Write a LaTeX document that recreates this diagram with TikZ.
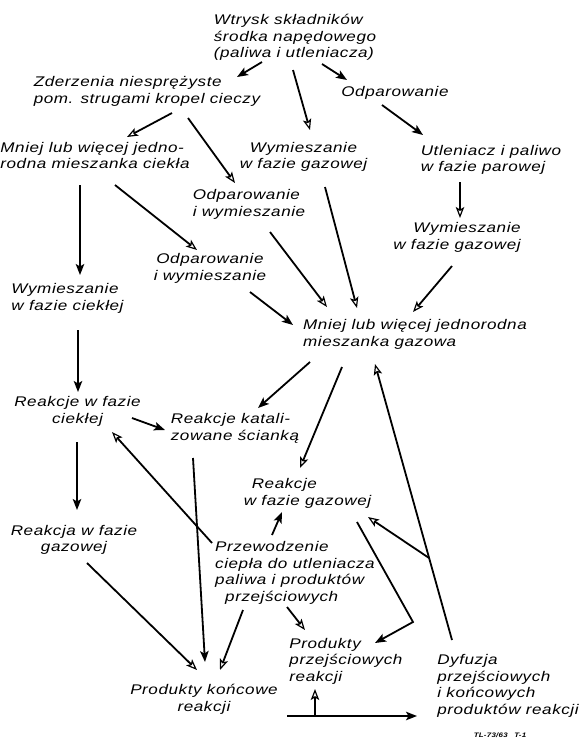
\documentclass[tikz,border=0pt]{standalone}
\usepackage{fontspec}
\newfontfamily\lett{Liberation Sans}[FakeStretch=1.22,LetterSpace=4]
\usetikzlibrary{arrows.meta,calc}
\tikzset{
  txt/.style={font=\lett\itshape\fontsize{14}{16.5}\selectfont, inner sep=0pt, align=left},
  txtc/.style={txt, align=center},
  txtr/.style={txt, align=right},
  arr/.style={line width=1.8pt, -{Stealth[length=11pt,width=8.5pt,inset=2.5pt]}},
  arro/.style={line width=1.8pt, -{Stealth[open,length=11pt,width=8.5pt,inset=2.5pt,line width=1.2pt]}},
  note/.style={font=\lett\itshape\bfseries\fontsize{6.5}{7.5}\selectfont, inner sep=0pt}
}
\begin{document}
\begin{tikzpicture}[x=1pt,y=-1pt]
\useasboundingbox[fill=white] (0,0) rectangle (579,740);
% nodes
\node[txt]  (wtrysk) at (295,37.5) {Wtrysk składników\\środka napędowego\\(paliwa i utleniacza)};
\node[txt]  (zderz)  at (147,91.5) {Zderzenia niesprężyste\\pom. strugami kropel cieczy};
\node[txt]  (odp1)   at (395,93)   {Odparowanie};
\node[txt]  (mnc)    at (95,155.5) {Mniej lub więcej jedno-\\rodna mieszanka ciekła};
\node[txtc] (wgz)    at (303.5,157) {Wymieszanie\\w fazie gazowej};
\node[txt]  (utl)    at (491,160)  {Utleniacz i paliwo\\w fazie parowej};
\node[txt]  (odp2)   at (249,204.5) {Odparowanie\\i wymieszanie};
\node[txtr] (wgz2)   at (457,237.5) {Wymieszanie\\w fazie gazowej};
\node[txtc] (odp3)   at (210,268.5) {Odparowanie\\i wymieszanie};
\node[txt]  (wck)    at (67.5,298.5) {Wymieszanie\\w fazie ciekłej};
\node[txt]  (mng)    at (415,334.5) {Mniej lub więcej jednorodna\\mieszanka gazowa};
\node[txtc] (rck)    at (77.5,411.5) {Reakcje w fazie\\ciekłej};
\node[txt]  (rkt)    at (235,428.5) {Reakcje katali-\\zowane ścianką};
\node[txt]  (rgz)    at (307.5,493.5) {\hspace*{8pt}Reakcje\\w fazie gazowej};
\node[txtc] (rcj)    at (74,540)   {Reakcja w fazie\\gazowej};
\node[txt]  (prz)    at (295,573)  {Przewodzenie\\ciepła do utleniacza\\paliwa i produktów\\\hspace*{10pt}przejściowych};
\node[txt]  (ppr)    at (346,661)  {Produkty\\przejściowych\\reakcji};
\node[txtc] (pkn)    at (204,699.5) {Produkty końcowe\\reakcji};
\node[txt]  (dyf)    at (508,686)  {Dyfuzja\\przejściowych\\i końcowych\\produktów reakcji};
\node[note] (fn)     at (500,735)  {TL-73/63\quad T-1};
% connectors
\draw[arr]  ([shift={(-33,24.5)}]wtrysk.center) -- ([shift={(90,-14.5)}]zderz.center);
\draw[arro] ([shift={(-2,32.5)}]wtrysk.center) -- ([shift={(6.5,-27)}]wgz.center);
\draw[arr]  ([shift={(27,26.5)}]wtrysk.center) -- ([shift={(-48,-13)}]odp1.center);
\draw[arr]  ([shift={(-13,12)}]odp1.center) -- ([shift={(-68,-25)}]utl.center);
\draw[arro] ([shift={(25,21.5)}]zderz.center) -- ([shift={(32,-18.5)}]mnc.center);
\draw[arro] ([shift={(41,26.5)}]zderz.center) -- ([shift={(-14,-21.5)}]odp2.center);
\draw[arr]  ([shift={(-15,29.5)}]mnc.center) -- ([shift={(12.5,-23.5)}]wck.center);
\draw[arro] ([shift={(20,29.5)}]mnc.center) -- ([shift={(-13,-18.5)}]odp3.center);
\draw[arro] ([shift={(-31,22)}]utl.center) -- ([shift={(3,-19.5)}]wgz2.center);
\draw[arro] ([shift={(21.5,30)}]wgz.center) -- ([shift={(-58,-26.5)}]mng.center);
\draw[arro] ([shift={(21,27.5)}]odp2.center) -- ([shift={(-88,-27.5)}]mng.center);
\draw[arr]  ([shift={(40,23.5)}]odp3.center) -- ([shift={(-122,-9.5)}]mng.center);
\draw[arro] ([shift={(-5,28.5)}]wgz2.center) -- ([shift={(-2,-22.5)}]mng.center);
\draw[arr]  ([shift={(10.5,31.5)}]wck.center) -- ([shift={(0.5,-19.5)}]rck.center);
\draw[arr]  ([shift={(54.5,6.5)}]rck.center) -- ([shift={(-70,1.5)}]rkt.center);
\draw[arr]  ([shift={(-105,27.5)}]mng.center) -- ([shift={(23,-20.5)}]rkt.center);
\draw[arro] ([shift={(-73,32.5)}]mng.center) -- ([shift={(-7.5,-25.5)}]rgz.center);
\draw[arro] ([shift={(-56,-46)}]dyf.center) -- coordinate[pos=0.297] (br) ([shift={(-40,29.5)}]mng.center);
\draw[arro] (br) -- ([shift={(60.5,23.5)}]rgz.center);
\draw[arr]  ([shift={(-0.5,30.5)}]rck.center) -- ([shift={(3,-30)}]rcj.center);
\draw[arro] ([shift={(-83,-30)}]prz.center) -- ([shift={(34.5,20.5)}]rck.center);
\draw[arr]  ([shift={(-42,29.5)}]rkt.center) -- ([shift={(1,-37.5)}]pkn.center);
\draw[arro] ([shift={(13,23)}]rcj.center) -- ([shift={(-7,-29.5)}]pkn.center);
\draw[arro] ([shift={(-52,37)}]prz.center) -- ([shift={(16,-29.5)}]pkn.center);
\draw[arr]  ([shift={(-23,-38)}]prz.center) -- ([shift={(-25.5,18.5)}]rgz.center);
\draw[arro] ([shift={(-8,34)}]prz.center) -- ([shift={(-41,-31)}]ppr.center);
\draw[arr]  ([shift={(49.5,28.5)}]rgz.center) -- ([shift={(67,-39)}]ppr.center) -- ([shift={(29,-18)}]ppr.center);
\draw[arr]  ([shift={(83,16.5)}]pkn.center) -- coordinate[pos=0.215] (up) ([shift={(-91,30)}]dyf.center);
\draw[arro] (up) -- ([shift={(-31,28)}]ppr.center);
\end{tikzpicture}
\end{document}
